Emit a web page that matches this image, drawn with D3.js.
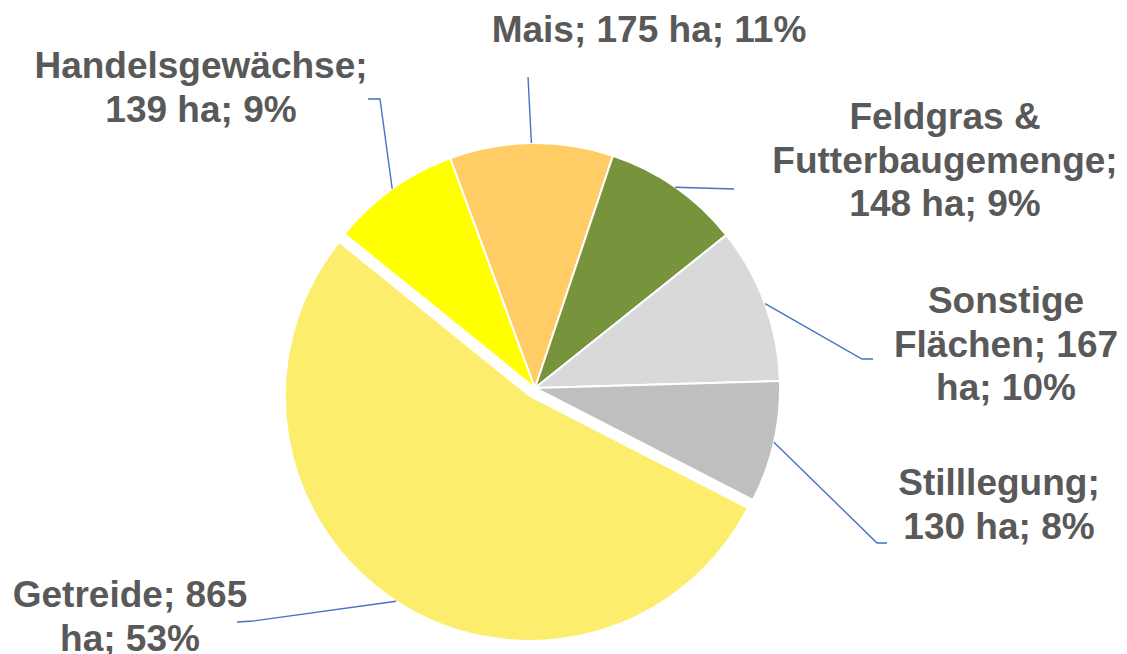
<!DOCTYPE html>
<html>
<head>
<meta charset="utf-8">
<script src="https://cdn.jsdelivr.net/npm/d3@7"></script>
<style>
  body { margin: 0; background: #fff; }
</style>
</head>
<body>
<script>
// données (dans l'ordre du graphique, à partir de Getreide)
const categories = ["Getreide", "Handelsgewächse", "Mais", "Feldgras &", "Sonstige Flächen", "Stilllegung"];
const categoriesSuite = ["", "", "", "Futterbaugemenge", "", ""];
const surfaces = [865, 139, 175, 148, 167, 130];
const couleurs = ["#FCEE6C", "#FFFF00", "#FFCC66", "#77933C", "#D9D9D9", "#BFBFBF"];

// mise en page des étiquettes : centre x, ligne de base, mots par ligne, coude et fin du trait
const etiquettesX = [130, 201, 649, 945, 1006, 999];
const etiquettesY = [607, 78, 42, 129, 313, 495];
const motsParLigne = [[2, 2], [1, 3], [5], [2, 1, 3], [1, 2, 2], [1, 3]];
const coudes = [[253, 621], [380, 99], [528, 77], [734, 189], [862, 359], [877, 543]];
const fins = [[237, 622], [368, 99], [528, 77], [734, 189], [873, 359], [887, 543]];

const largeur = 1127, hauteur = 654;
const centre = [535, 388];
const rayon = 245;
const decalage = 9.5; // part éclatée (Getreide)
const angleDepart = 117.2 * Math.PI / 180;
const interligne = 43.5;

const total = d3.sum(surfaces);
const formatPct = d3.format(".0%");

const svg = d3.select("body").append("svg")
    .attr("width", largeur)
    .attr("height", hauteur);

const pie = d3.pie()
    .sort(null)
    .value(d => d)
    .startAngle(angleDepart)
    .endAngle(angleDepart + 2 * Math.PI);

const arc = d3.arc().innerRadius(0).outerRadius(rayon);

const parts = pie(surfaces);

// décalage de chaque part (seule la première est éclatée)
const offsets = parts.map((p, i) => {
    if (i !== 0) return [0, 0];
    const milieu = (p.startAngle + p.endAngle) / 2;
    return [Math.sin(milieu) * decalage, -Math.cos(milieu) * decalage];
});

const g = svg.append("g")
    .attr("transform", "translate(" + centre[0] + "," + centre[1] + ")");

g.selectAll("path")
    .data(parts)
    .join("path")
    .attr("d", arc)
    .attr("transform", (d, i) => "translate(" + offsets[i][0] + "," + offsets[i][1] + ")")
    .attr("fill", (d, i) => couleurs[i])
    .attr("stroke", "#fff")
    .attr("stroke-width", 2);

// traits de rappel
parts.forEach((p, i) => {
    const milieu = (p.startAngle + p.endAngle) / 2;
    const x0 = centre[0] + offsets[i][0] + Math.sin(milieu) * rayon;
    const y0 = centre[1] + offsets[i][1] - Math.cos(milieu) * rayon;
    const points = [[x0, y0], coudes[i], fins[i]];
    svg.append("path")
        .attr("d", d3.line()(points))
        .attr("fill", "none")
        .attr("stroke", "#4472C4")
        .attr("stroke-width", 1.4);
});

// étiquettes
parts.forEach((p, i) => {
    let nom = categories[i];
    if (categoriesSuite[i]) nom = nom + " " + categoriesSuite[i];
    const texte = nom + "; " + surfaces[i] + " ha; " + formatPct(surfaces[i] / total);
    const mots = texte.split(" ");
    const lignes = [];
    let k = 0;
    motsParLigne[i].forEach(n => {
        lignes.push(mots.slice(k, k + n).join(" "));
        k += n;
    });
    const t = svg.append("text")
        .attr("x", etiquettesX[i])
        .attr("y", etiquettesY[i])
        .attr("text-anchor", "middle")
        .style("font-family", "'Liberation Sans', Arial, sans-serif")
        .style("font-weight", "bold")
        .style("font-size", "37px")
        .style("fill", "#595959");
    lignes.forEach((l, j) => {
        t.append("tspan")
            .attr("x", etiquettesX[i])
            .attr("dy", j === 0 ? 0 : interligne)
            .text(l);
    });
});
</script>
</body>
</html>
